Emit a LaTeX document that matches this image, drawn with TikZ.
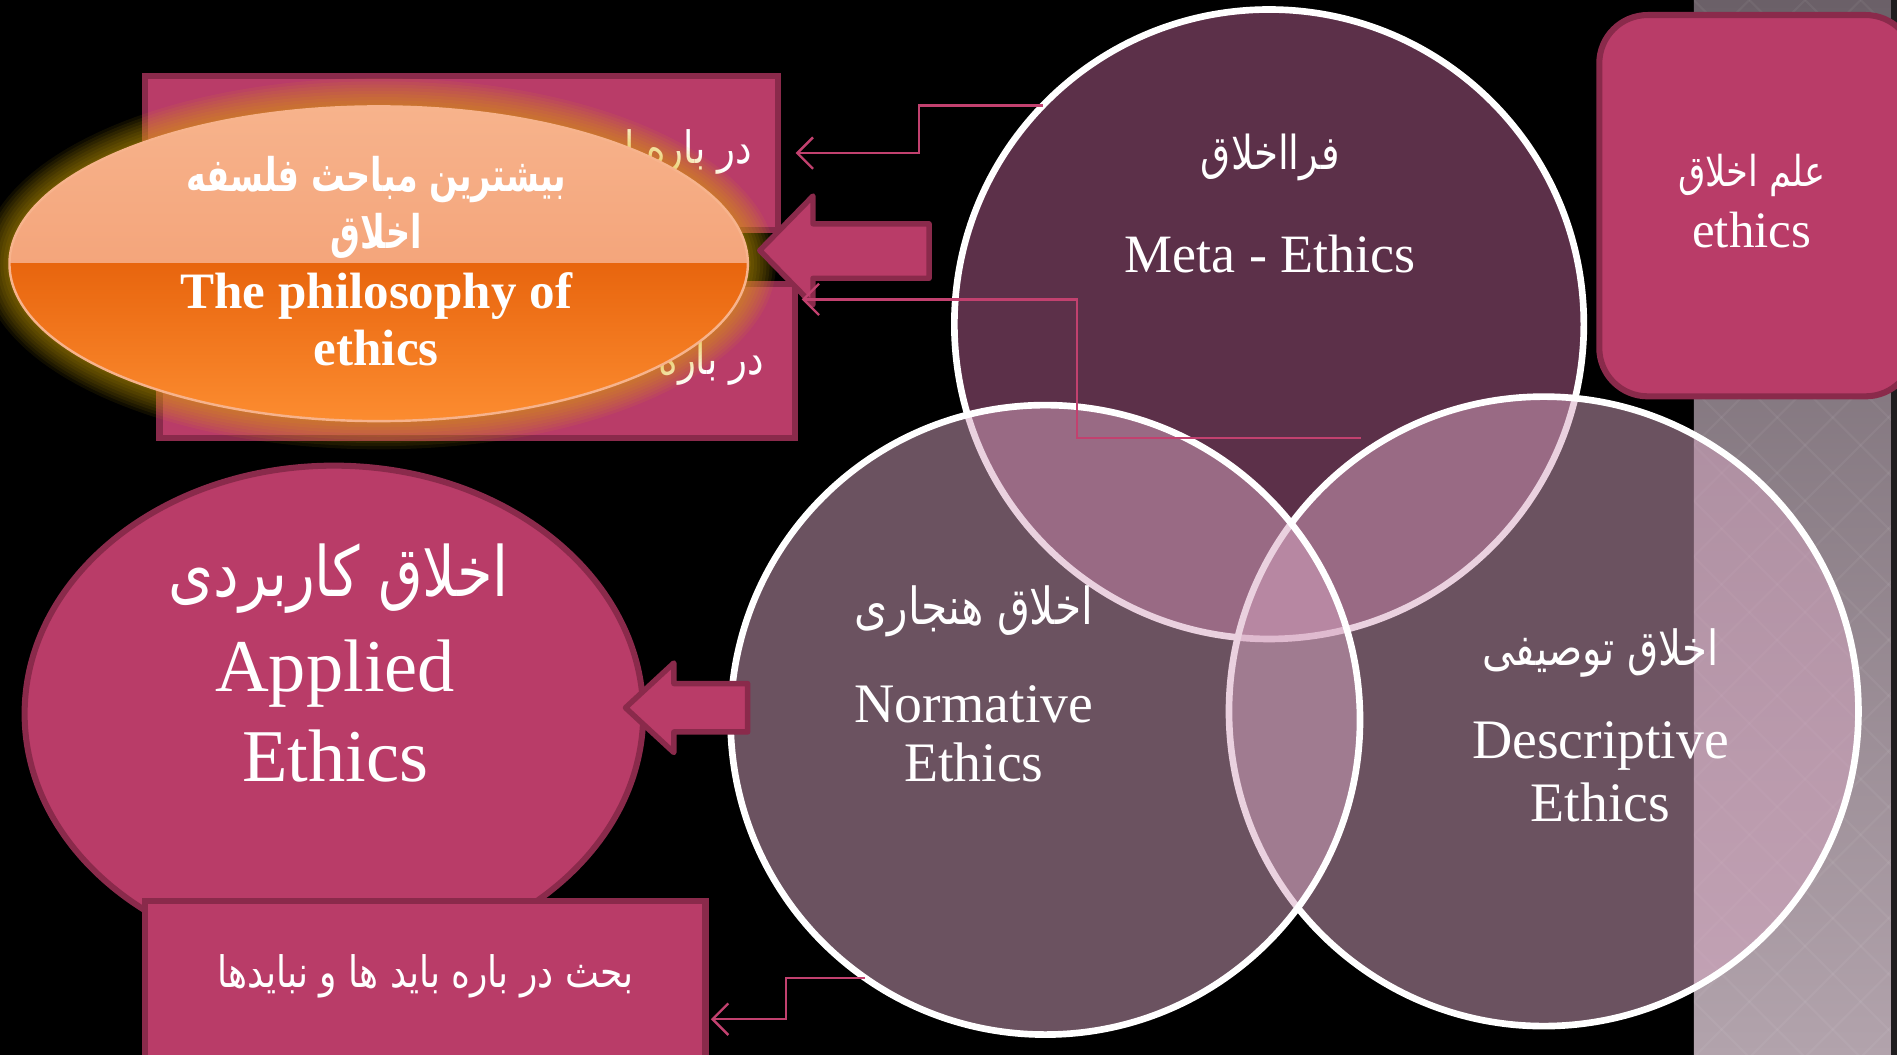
\documentclass[tikz,border=0pt]{standalone}
\usepackage{fontspec}
\setmainfont{Liberation Serif}
\newfontfamily\farsifont[Script=Arabic, FakeStretch=0.83]{DejaVu Sans}
\newfontfamily\farsibold[Script=Arabic, FakeStretch=0.72]{DejaVu Sans Bold}
\TeXXeTstate=1
\usetikzlibrary{arrows.meta,calc,shapes.geometric}

\definecolor{boxfill}{HTML}{B93C68}
\definecolor{boxedge}{HTML}{8A2A4B}
\definecolor{metafill}{HTML}{B86092}
\definecolor{vennfill}{HTML}{D6A4C0}
\definecolor{linkpink}{HTML}{C2416F}
\definecolor{stripA}{HTML}{6B6068}
\definecolor{stripB}{HTML}{8F8189}
\definecolor{stripC}{HTML}{B2A3AC}
\definecolor{peachA}{HTML}{F7B38C}
\definecolor{peachB}{HTML}{F1976A}
\definecolor{orangeA}{HTML}{E8650E}
\definecolor{orangeB}{HTML}{FC8C30}
\definecolor{halo}{HTML}{E2B000}

\newcommand\fsz[1]{\fontsize{#1}{#1}\selectfont}

\begin{document}
\begin{tikzpicture}[x=0.01cm,y=-0.01cm,
  sqbox/.style={rectangle, draw=boxedge, fill=boxfill, line width=0.05cm, inner sep=0pt},
  venn/.style={circle, minimum size=5.2cm, inner sep=0pt, outer sep=0pt, draw=white, line width=0.055cm, fill opacity=0.5},
  fatarrow/.style={draw=boxedge, fill=boxfill, line width=0.045cm, line join=round},
  link/.style={draw=linkpink, line width=0.55pt, -{Straight Barb[length=1.3mm,width=2.6mm]}},
  lbl/.style={text=white, align=center, inner sep=0pt},
  fa/.style={lbl, font=\farsifont\fsz{#1}},
  fab/.style={lbl, font=\farsibold\fsz{#1}},
  en/.style={lbl, font=\fsz{#1}},
]
\useasboundingbox (0,0) rectangle (1568,872);
\clip (0,0) rectangle (1568,872);
\fill[black] (0,0) rectangle (1568,872);

% textured side strip
\shade[top color=stripA, middle color=stripB, bottom color=stripC] (1400,0) rectangle (1568,872);
\begin{scope}
  \clip (1400,0) rectangle (1568,872);
  \foreach \k in {-19,...,23} {
    \draw[white, opacity=0.05, line width=0.5pt] (1400+\k*46,0) -- ++(900,900);
    \draw[white, opacity=0.05, line width=0.5pt] (1400+\k*46,0) -- ++(-900,900);
  }
  \fill[black!70!stripA] (1563,0) rectangle (1568,872);
\end{scope}

% ethics box, top right
\node[sqbox, rounded corners=0.4cm, minimum width=2.6cm, minimum height=3.15cm] (sci) at (1452,170) {};
\node[fa=10] (sciFa) at (1448,145) {\beginR علم اخلاق\endR};
\node[en=12] (sciEn) at (1448,190) {ethics};

% two boxes behind the orange ellipse
\node[sqbox, minimum width=5.23cm, minimum height=1.27cm] (boxA) at (381.5,126.5) {};
\node[sqbox, minimum width=5.25cm, minimum height=1.27cm] (boxB) at (394.5,298.5) {};
\node[fa=10.5, anchor=east] (boxAtxt) at (622,126) {\beginR در باره ا\endR};
\node[fa=10.5, anchor=east] (boxBtxt) at (632,300) {\beginR در باره\endR};

% glowing orange ellipse
\foreach \g in {1,...,9}
  \fill[halo, opacity=0.075] (313,218) ellipse [x radius=305+2.6*\g, y radius=130+2.6*\g];
\node[ellipse, minimum width=6.1cm, minimum height=2.6cm, inner sep=0pt, draw=peachA, line width=0.02cm,
  path picture={
    \shade[top color=peachA, bottom color=peachB] (path picture bounding box.north west) rectangle (path picture bounding box.east);
    \shade[top color=orangeA, bottom color=orangeB] (path picture bounding box.west) rectangle (path picture bounding box.south east);
  }] (phil) at (313,218) {};
\node[fab=10.9] (philFa1) at (311,148) {\beginR بیشترین مباحث فلسفه\endR};
\node[fab=10.9] (philFa2) at (311,195) {\beginR اخلاق\endR};
\node[lbl, font=\bfseries\fsz{12}] (philEn1) at (311,245) {The philosophy of};
\node[lbl, font=\bfseries\fsz{12}] (philEn2) at (311,288) {ethics};

% big arrow into the ellipse
\draw[fatarrow] (628,207) -- (672,162) -- (672,185) -- (768,185) -- (768,230) -- (672,230) -- (672,252) -- cycle;

% venn circles
\node[venn, fill=metafill] (meta) at (1049,268) {};
\node[venn, fill=vennfill] (desc) at (1276,588) {};
\node[venn, fill=vennfill] (norm) at (864,595) {};

% connectors
\coordinate (metaIn) at (1125,362);
\draw[link] (meta.136) -- ++(-102,0) |- ([xshift=0.12cm]boxA.east);
\draw[link] (metaIn) -- ++(-235,0) |- ($(boxB.north east)+(3,15)$);

% applied ethics
\node[ellipse, draw=boxedge, fill=boxfill, line width=0.05cm, minimum width=5.11cm, minimum height=4.1cm, inner sep=0pt] (applied) at (276,590) {};
\draw[fatarrow] (517,585) -- (557,548) -- (557,565) -- (618,565) -- (618,605) -- (557,605) -- (557,622) -- cycle;
\node[sqbox, minimum width=4.63cm, minimum height=1.45cm] (boxC) at (351.5,817.5) {};
\draw[link] (norm.235) -- ++(-65,0) |- ($(boxC.north east)+(2,100)$);

% labels
\node[fa=16.3] (appFa) at (280,478) {\beginR اخلاق کاربردی\endR};
\node[en=17.5] (appEn1) at (277,557) {Applied};
\node[en=17.5] (appEn2) at (277,625) {Ethics};
\node[fa=10.2] (boxCtxt) at (352,807) {\beginR بحث در باره باید ها و نبایدها\endR};

\node[fa=11] (metaFa) at (1050,130) {\beginR فرااخلاق\endR};
\node[en=12.7] (metaEn) at (1050,210) {Meta - Ethics};
\node[fa=12] (normFa) at (805,505) {\beginR اخلاق هنجاری\endR};
\node[en=13.1] (normEn1) at (805,582) {Normative};
\node[en=13.1] (normEn2) at (805,630) {Ethics};
\node[fa=11.4] (descFa) at (1323,540) {\beginR اخلاق توصیفی\endR};
\node[en=13.1] (descEn1) at (1323,617) {Descriptive};
\node[en=13.1] (descEn2) at (1323,663) {Ethics};
\end{tikzpicture}
\end{document}
